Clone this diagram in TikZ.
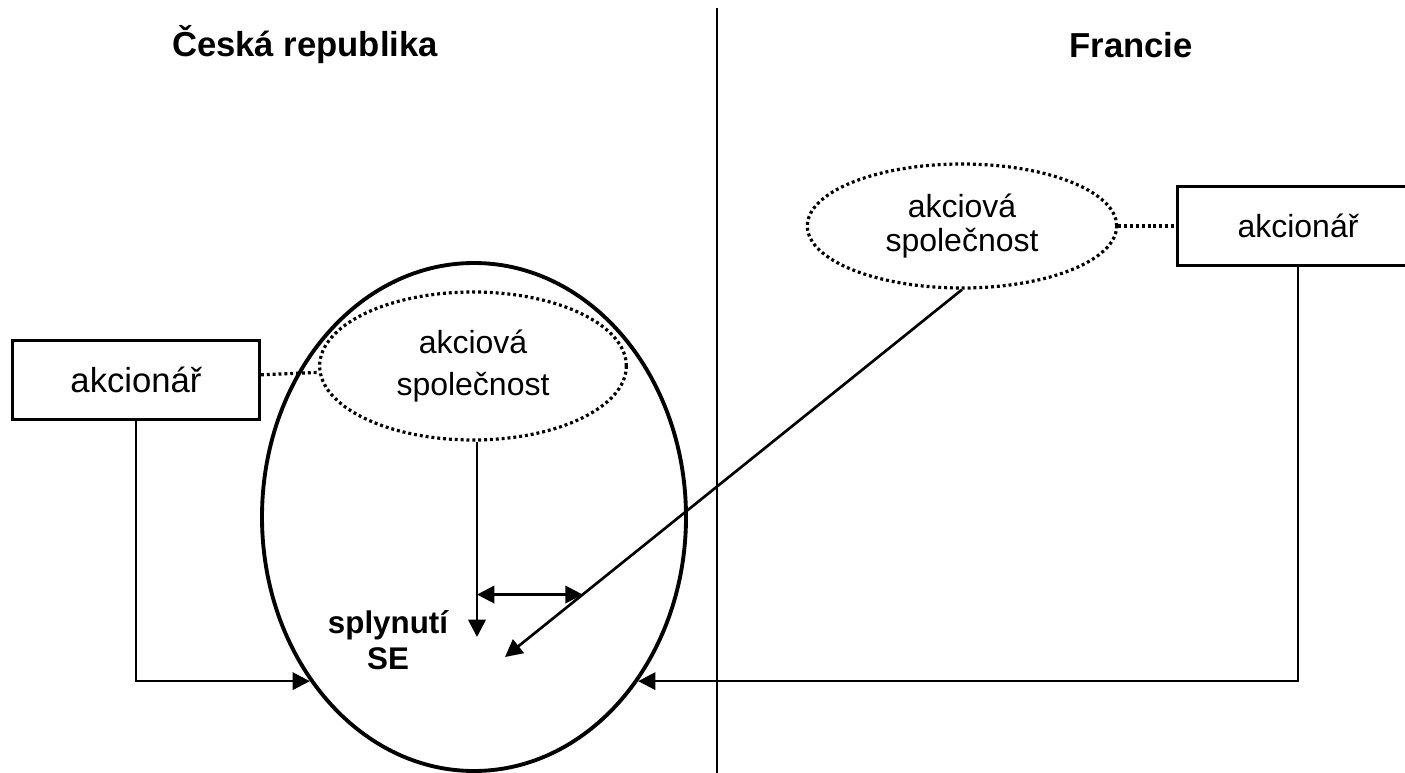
\documentclass[tikz,border=0pt]{standalone}
\usepackage{fontspec}
\setmainfont{Liberation Sans}
\usetikzlibrary{arrows.meta,shapes.geometric}
\begin{document}
\begin{tikzpicture}[x=0.75pt,y=-0.75pt,
  box/.style={draw,line width=2.4pt,inner sep=0pt,minimum height=59pt},
  firm/.style={draw,ellipse,line width=2.4pt,dash pattern=on 2.2pt off 2.2pt,inner sep=0pt,align=center},
  link/.style={line width=2.4pt,dash pattern=on 2.2pt off 2.2pt},
  arr/.style={line width=2pt,-{Triangle[length=13pt,width=13pt]}},
  title/.style={font=\bfseries\fontsize{26}{31}\selectfont}]
  \useasboundingbox (0,0) rectangle (1405,773);

  \node[title] (cz) at (305, 45) {Česká republika};
  \node[title] (fr) at (1131, 45) {Francie};
  \draw[line width=2pt] (717, 8) coordinate (top) -- (717, 773) coordinate (bottom);

  \node[draw,ellipse,line width=2.9pt,minimum width=318pt,minimum height=381pt] (se) at (474, 517) {};

  \node[box,minimum width=185pt,font=\fontsize{26}{31}\selectfont] (czowner) at (136, 380) {akcionář};
  \node[firm,minimum width=230pt,minimum height=111pt,font=\fontsize{24}{31}\selectfont] (czfirm) at (473, 366) {akciová\\společnost};
  \node[box,minimum width=181pt,font=\fontsize{24}{29}\selectfont] (frowner) at (1298, 226) {akcionář};
  \node[firm,minimum width=232pt,minimum height=93pt,font=\fontsize{24}{26}\selectfont] (frfirm) at (962, 226) {akciová\\společnost};

  \node[font=\bfseries\fontsize{23.5}{27}\selectfont,align=center] (fusion) at (388, 640) {splynutí\\SE};
  \coordinate (czend) at (477, 637);
  \coordinate (frend) at (505, 657);

  \draw[link] (czowner) -- (czfirm);
  \draw[link] (frfirm) -- (frowner);

  \draw[arr] (czowner.south) |- (se.-135);
  \draw[arr] (frowner.south) |- (se.-45);
  \draw[arr] (czfirm.south -| czend) -- (czend);
  \draw[arr] (frfirm.south) -- coordinate[pos=0.83] (meet) (frend);
  \draw[arr,{Triangle[length=13pt,width=13pt]}-{Triangle[length=13pt,width=13pt]}] (czend |- meet) -- (meet);
\end{tikzpicture}
\end{document}
